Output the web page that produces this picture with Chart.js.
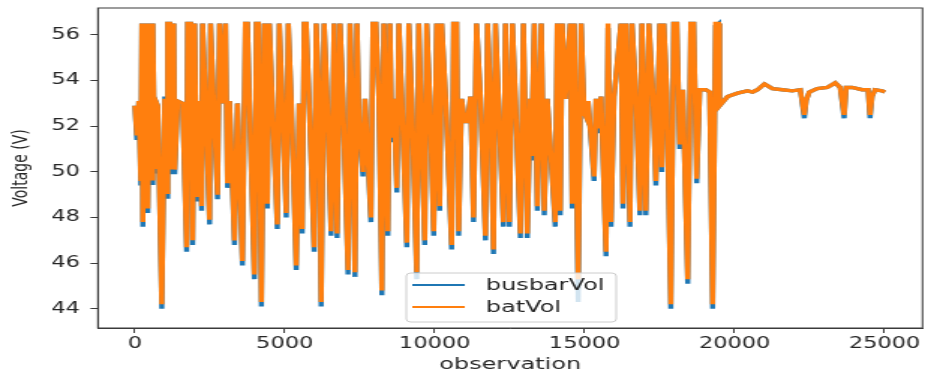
<!DOCTYPE html>
<html lang="en">
<head>
    <meta charset="UTF-8">
    <title>busbarVol / batVol</title>
    <script src="https://cdn.jsdelivr.net/npm/chart.js@4.4.1/dist/chart.umd.min.js"></script>
    <style>
        html, body { margin: 0; padding: 0; background: #fff; overflow: hidden; }
        /* the original picture is stretched sideways, so the chart is drawn narrow and widened */
        #stretch { width: 617px; height: 375px; transform: scaleX(1.4992); transform-origin: 0 0; }
    </style>
</head>
<body>

<div id="stretch">
    <canvas id="volChart"></canvas>
</div>

<script>
// observation index of each sampled point
const observation = [
    0, 66, 133, 199, 233, 266, 332, 399, 432, 498, 565, 598, 664, 698, 764, 897, 997, 1063, 1096, 1163,
    1229, 1296, 1329, 1428, 1595, 1727, 1761, 1860, 1927, 1993, 2060, 2159, 2226, 2259, 2359, 2492, 2525, 2624, 2757, 2824,
    2890, 3023, 3089, 3156, 3322, 3422, 3588, 3687, 3754, 3820, 3986, 4053, 4119, 4219, 4319, 4418, 4485, 4584, 4750, 4817,
    4917, 5049, 5116, 5216, 5382, 5481, 5581, 5647, 5714, 5813, 5980, 6046, 6146, 6212, 6312, 6411, 6544, 6644, 6744, 6843,
    6943, 7109, 7176, 7242, 7342, 7408, 7475, 7607, 7674, 7873, 7940, 8039, 8139, 8239, 8305, 8438, 8504, 8571, 8637, 8737,
    8803, 8903, 9069, 9136, 9235, 9401, 9468, 9534, 9667, 9733, 9833, 9966, 10066, 10165, 10232, 10365, 10564, 10630, 10730, 10797,
    10896, 10996, 11095, 11195, 11295, 11394, 11527, 11693, 11760, 11860, 11959, 12026, 12125, 12291, 12358, 12491, 12590, 12690, 12856, 12956,
    13089, 13188, 13222, 13321, 13421, 13554, 13653, 13753, 14019, 14085, 14185, 14251, 14351, 14517, 14584, 14650, 14783, 14883, 14982, 15049,
    15115, 15314, 15381, 15447, 15547, 15713, 15780, 15879, 15979, 16211, 16278, 16377, 16510, 16577, 16710, 16843, 16909, 17042, 17142, 17274,
    17374, 17507, 17573, 17640, 17739, 17872, 17972, 18072, 18171, 18271, 18437, 18537, 18636, 18736, 18836, 19035, 19168, 19268, 19367, 19467,
    19500, 19766, 20098, 20430, 20600, 20763, 20995, 21261, 21593, 21925, 22191, 22324, 22390, 22490, 22756, 23088, 23354, 23520, 23653, 23719,
    23918, 24251, 24450, 24516, 24583, 24682, 24915, 25015
];

// busbar voltage (V)
const busbarVol = [
    52.9, 51.4, 53.1, 49.4, 56.5, 47.6, 56.5, 53.0, 48.2, 56.5, 49.5, 56.5, 50.0, 53.1, 52.9, 44.0, 53.3, 48.9, 56.5, 56.5,
    49.9, 56.5, 49.9, 53.1, 53.0, 46.5, 56.5, 56.5, 46.8, 56.5, 48.7, 53.1, 48.3, 56.5, 53.0, 47.7, 56.5, 53.1, 48.8, 56.5,
    53.0, 56.5, 49.3, 53.1, 46.8, 53.0, 45.9, 56.5, 56.5, 53.1, 45.3, 56.5, 56.5, 44.1, 56.5, 48.4, 56.5, 53.1, 47.5, 56.5,
    53.0, 48.0, 56.5, 53.1, 45.7, 53.0, 47.3, 56.5, 56.5, 53.0, 46.5, 56.5, 53.1, 44.1, 56.5, 53.2, 47.2, 56.5, 47.1, 56.5,
    53.1, 45.5, 56.5, 53.1, 45.4, 56.5, 52.0, 49.8, 53.2, 47.8, 56.5, 56.5, 53.2, 44.6, 56.5, 47.2, 56.5, 51.3, 53.2, 49.1,
    56.5, 53.2, 46.7, 56.5, 53.2, 45.3, 56.5, 53.2, 46.8, 56.5, 53.3, 47.2, 56.5, 48.3, 56.5, 53.2, 46.6, 56.5, 56.5, 47.2,
    53.2, 52.2, 52.2, 53.3, 47.8, 56.5, 53.2, 47.0, 56.5, 53.2, 46.4, 56.5, 53.2, 47.6, 56.5, 47.6, 56.5, 53.2, 47.1, 56.5,
    47.1, 53.2, 50.5, 56.5, 48.3, 56.5, 48.1, 53.2, 47.6, 56.5, 48.1, 56.5, 53.2, 56.5, 48.4, 56.5, 44.3, 56.5, 52.6, 52.4,
    53.1, 49.6, 53.2, 51.7, 53.3, 46.3, 56.3, 47.6, 53.3, 56.5, 48.4, 56.5, 47.6, 56.5, 53.4, 48.1, 56.5, 48.1, 56.5, 53.4,
    49.4, 56.5, 50.0, 56.5, 53.5, 44.0, 56.5, 56.5, 51.0, 53.6, 45.1, 56.5, 56.5, 49.5, 53.6, 53.6, 53.5, 44.0, 56.4, 56.5,
    52.9, 53.3, 53.45, 53.55, 53.5, 53.6, 53.85, 53.65, 53.6, 53.55, 53.6, 52.35, 53.15, 53.5, 53.65, 53.7, 53.9, 53.7, 52.35, 53.7,
    53.7, 53.6, 53.6, 52.35, 53.3, 53.6, 53.55, 53.5
];

// battery voltage (V)
const batVol = [
    52.9, 51.6, 53.1, 49.6, 56.5, 47.8, 56.5, 53.0, 48.4, 56.5, 49.7, 56.5, 50.2, 53.1, 52.9, 44.2, 53.2, 49.1, 56.5, 56.5,
    50.1, 56.5, 50.1, 53.1, 53.0, 46.7, 56.5, 56.5, 47.0, 56.5, 48.9, 53.1, 48.5, 56.5, 53.0, 47.9, 56.5, 53.1, 49.0, 56.5,
    53.0, 56.5, 49.5, 53.1, 47.0, 53.0, 46.1, 56.5, 56.5, 53.1, 45.5, 56.5, 56.5, 44.3, 56.5, 48.6, 56.5, 53.1, 47.7, 56.5,
    53.0, 48.2, 56.5, 53.1, 45.9, 53.0, 47.5, 56.5, 56.5, 53.0, 46.7, 56.5, 53.1, 44.3, 56.5, 53.2, 47.4, 56.5, 47.3, 56.5,
    53.1, 45.7, 56.5, 53.1, 45.6, 56.5, 52.2, 50.0, 53.2, 48.0, 56.5, 56.5, 53.2, 44.8, 56.5, 47.4, 56.5, 51.5, 53.2, 49.3,
    56.5, 53.2, 46.9, 56.5, 53.2, 45.6, 56.5, 53.2, 47.0, 56.5, 53.3, 47.4, 56.5, 48.5, 56.5, 53.2, 46.8, 56.5, 56.5, 47.4,
    53.2, 52.2, 52.2, 53.3, 48.0, 56.5, 53.2, 47.2, 56.5, 53.2, 46.6, 56.5, 53.2, 47.8, 56.5, 47.8, 56.5, 53.2, 47.3, 56.5,
    47.3, 53.2, 50.7, 56.5, 48.5, 56.5, 48.3, 53.2, 47.8, 56.5, 48.3, 56.5, 53.2, 56.5, 48.6, 56.5, 45.3, 56.5, 52.6, 52.4,
    53.1, 49.8, 53.2, 51.9, 53.3, 46.5, 56.5, 47.8, 53.3, 56.5, 48.6, 56.5, 47.8, 56.5, 53.4, 48.3, 56.5, 48.3, 56.5, 53.4,
    49.6, 56.5, 50.2, 56.5, 53.5, 44.2, 56.5, 56.5, 51.2, 53.6, 45.3, 56.5, 56.5, 49.7, 53.6, 53.6, 53.5, 44.2, 56.5, 56.5,
    52.9, 53.3, 53.45, 53.55, 53.5, 53.6, 53.85, 53.65, 53.6, 53.55, 53.6, 52.5, 53.15, 53.5, 53.65, 53.7, 53.9, 53.7, 52.5, 53.7,
    53.7, 53.6, 53.6, 52.5, 53.3, 53.6, 53.55, 53.5
];

const yTicks = [44, 46, 48, 50, 52, 54, 56];
const xTicks = [0, 5000, 10000, 15000, 20000, 25000];

const FONT = "'DejaVu Sans', sans-serif";
const TEXT = '#262626';
const AXIS = '#3a3a3a';

// matplotlib-like frame round the plot area
const framePlugin = {
    id: 'frame',
    afterDatasetsDraw(chart) {
        const a = chart.chartArea, ctx = chart.ctx;
        ctx.save();
        ctx.strokeStyle = AXIS;
        ctx.lineWidth = 1;
        ctx.strokeRect(a.left, a.top, a.right - a.left, a.bottom - a.top);
        ctx.restore();
    }
};

// legend box in the lower middle of the plot
const legendPlugin = {
    id: 'boxLegend',
    afterDraw(chart) {
        const ctx = chart.ctx;
        const x = 271, y = 273, w = 140, h = 49;
        ctx.save();
        ctx.fillStyle = 'rgba(255,255,255,0.8)';
        ctx.strokeStyle = '#cccccc';
        ctx.lineWidth = 1;
        ctx.beginPath();
        ctx.roundRect(x, y, w, h, 3);
        ctx.fill();
        ctx.stroke();
        ctx.font = '16px ' + FONT;
        ctx.textBaseline = 'middle';
        chart.data.datasets.forEach((ds, i) => {
            const cy = y + 12 + i * 22;
            ctx.strokeStyle = ds.borderColor;
            ctx.lineWidth = 2;
            ctx.beginPath();
            ctx.moveTo(x + 4, cy);
            ctx.lineTo(x + 39, cy);
            ctx.stroke();
            ctx.fillStyle = TEXT;
            ctx.fillText(ds.label, x + 53, cy + 1);
        });
        ctx.restore();
    }
};

const ctx = document.getElementById('volChart').getContext('2d');
new Chart(ctx, {
    type: 'line',
    data: {
        datasets: [
            {
                label: 'busbarVol',
                data: observation.map((o, i) => ({ x: o, y: busbarVol[i] })),
                borderColor: '#1f77b4',
                borderWidth: 3.4,
                pointRadius: 0,
                tension: 0,
                order: 1
            },
            {
                label: 'batVol',
                data: observation.map((o, i) => ({ x: o, y: batVol[i] })),
                borderColor: '#ff7f0e',
                borderWidth: 3.4,
                pointRadius: 0,
                tension: 0,
                order: 0
            }
        ]
    },
    options: {
        responsive: true,
        maintainAspectRatio: false,
        animation: false,
        layout: { padding: { top: 8, right: 1, left: 0, bottom: 0 } },
        plugins: {
            legend: { display: false },
            tooltip: { enabled: false }
        },
        scales: {
            x: {
                type: 'linear',
                min: -1232,
                max: 26265,
                afterBuildTicks: s => { s.ticks = xTicks.map(v => ({ value: v })); },
                afterFit: s => { s.height = 47; s.paddingLeft = 0; s.paddingRight = 0; },
                grid: { drawOnChartArea: false, color: AXIS, tickLength: 5 },
                border: { color: AXIS },
                ticks: {
                    color: TEXT,
                    padding: 2,
                    maxRotation: 0,
                    font: { family: FONT, size: 15 },
                    callback: v => String(v)
                },
                title: {
                    display: true,
                    text: 'observation',
                    color: TEXT,
                    font: { family: FONT, size: 16 },
                    padding: { top: 0, bottom: 1 }
                }
            },
            y: {
                min: 43.16,
                max: 57.18,
                afterBuildTicks: s => { s.ticks = yTicks.map(v => ({ value: v })); },
                afterFit: s => { s.width = 65.3; s.paddingTop = 0; s.paddingBottom = 0; },
                grid: { drawOnChartArea: false, color: AXIS, tickLength: 5 },
                border: { color: AXIS },
                ticks: {
                    color: TEXT,
                    padding: 7,
                    font: { family: FONT, size: 15 }
                },
                title: {
                    display: true,
                    text: 'Voltage (V)',
                    color: TEXT,
                    font: { family: FONT, size: 14 },
                    padding: { top: 6, bottom: 0 }
                }
            }
        }
    },
    plugins: [framePlugin, legendPlugin]
});
</script>
</body>
</html>
